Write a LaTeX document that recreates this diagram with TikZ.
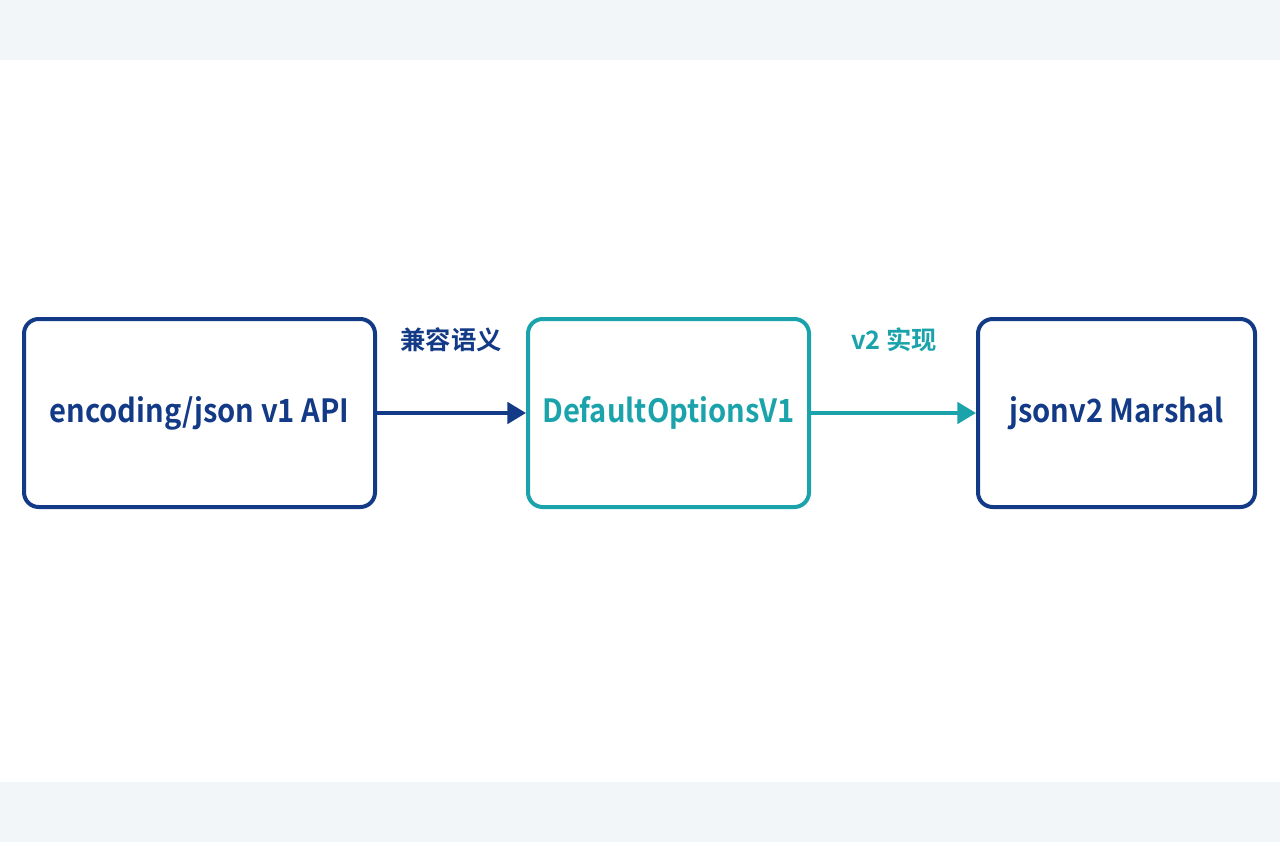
\documentclass[tikz,border=0pt]{standalone}
\usepackage{fontspec}
\setmainfont{Noto Sans CJK SC}[BoldFont={* Bold}]
\newfontfamily\narrowfont{Noto Sans CJK SC}[FakeStretch=0.91,UprightFont={* Bold}]
\usetikzlibrary{arrows.meta}
\definecolor{navy}{HTML}{123A86}
\definecolor{teal}{HTML}{1BA3AC}
\definecolor{band}{HTML}{F3F6F9}
\begin{document}
\begin{tikzpicture}[x=0.75pt,y=-0.75pt,
  box/.style={draw,line width=3pt,rounded corners=11pt,inner sep=0pt,font=\narrowfont\fontsize{24}{28}\selectfont},
  lbl/.style={font=\bfseries\fontsize{19}{24}\selectfont},
  arr/.style={line width=3pt,-{Triangle[length=14pt,width=16pt]}}]
\useasboundingbox (0,0) rectangle (1280,842);
\fill[white] (0,0) rectangle (1280,842);
\fill[band] (0,0) rectangle (1280,60);
\fill[band] (0,782) rectangle (1280,842);
\node[box,navy,minimum width=263.25pt,minimum height=141pt] (a) at (199.5,413) {encoding/json v1 API};
\node[box,teal,minimum width=210.75pt,minimum height=141pt] (b) at (668.5,413) {DefaultOptionsV1};
\node[box,navy,minimum width=207.75pt,minimum height=141pt] (c) at (1116.5,413) {jsonv2 Marshal};
\draw[arr,navy] (a) -- (b);
\draw[arr,teal] (b) -- (c);
\node[lbl,navy] (l1) at (451,340) {兼容语义};
\node[lbl,teal] (l2) at (894,340) {v2 实现};
\end{tikzpicture}
\end{document}
